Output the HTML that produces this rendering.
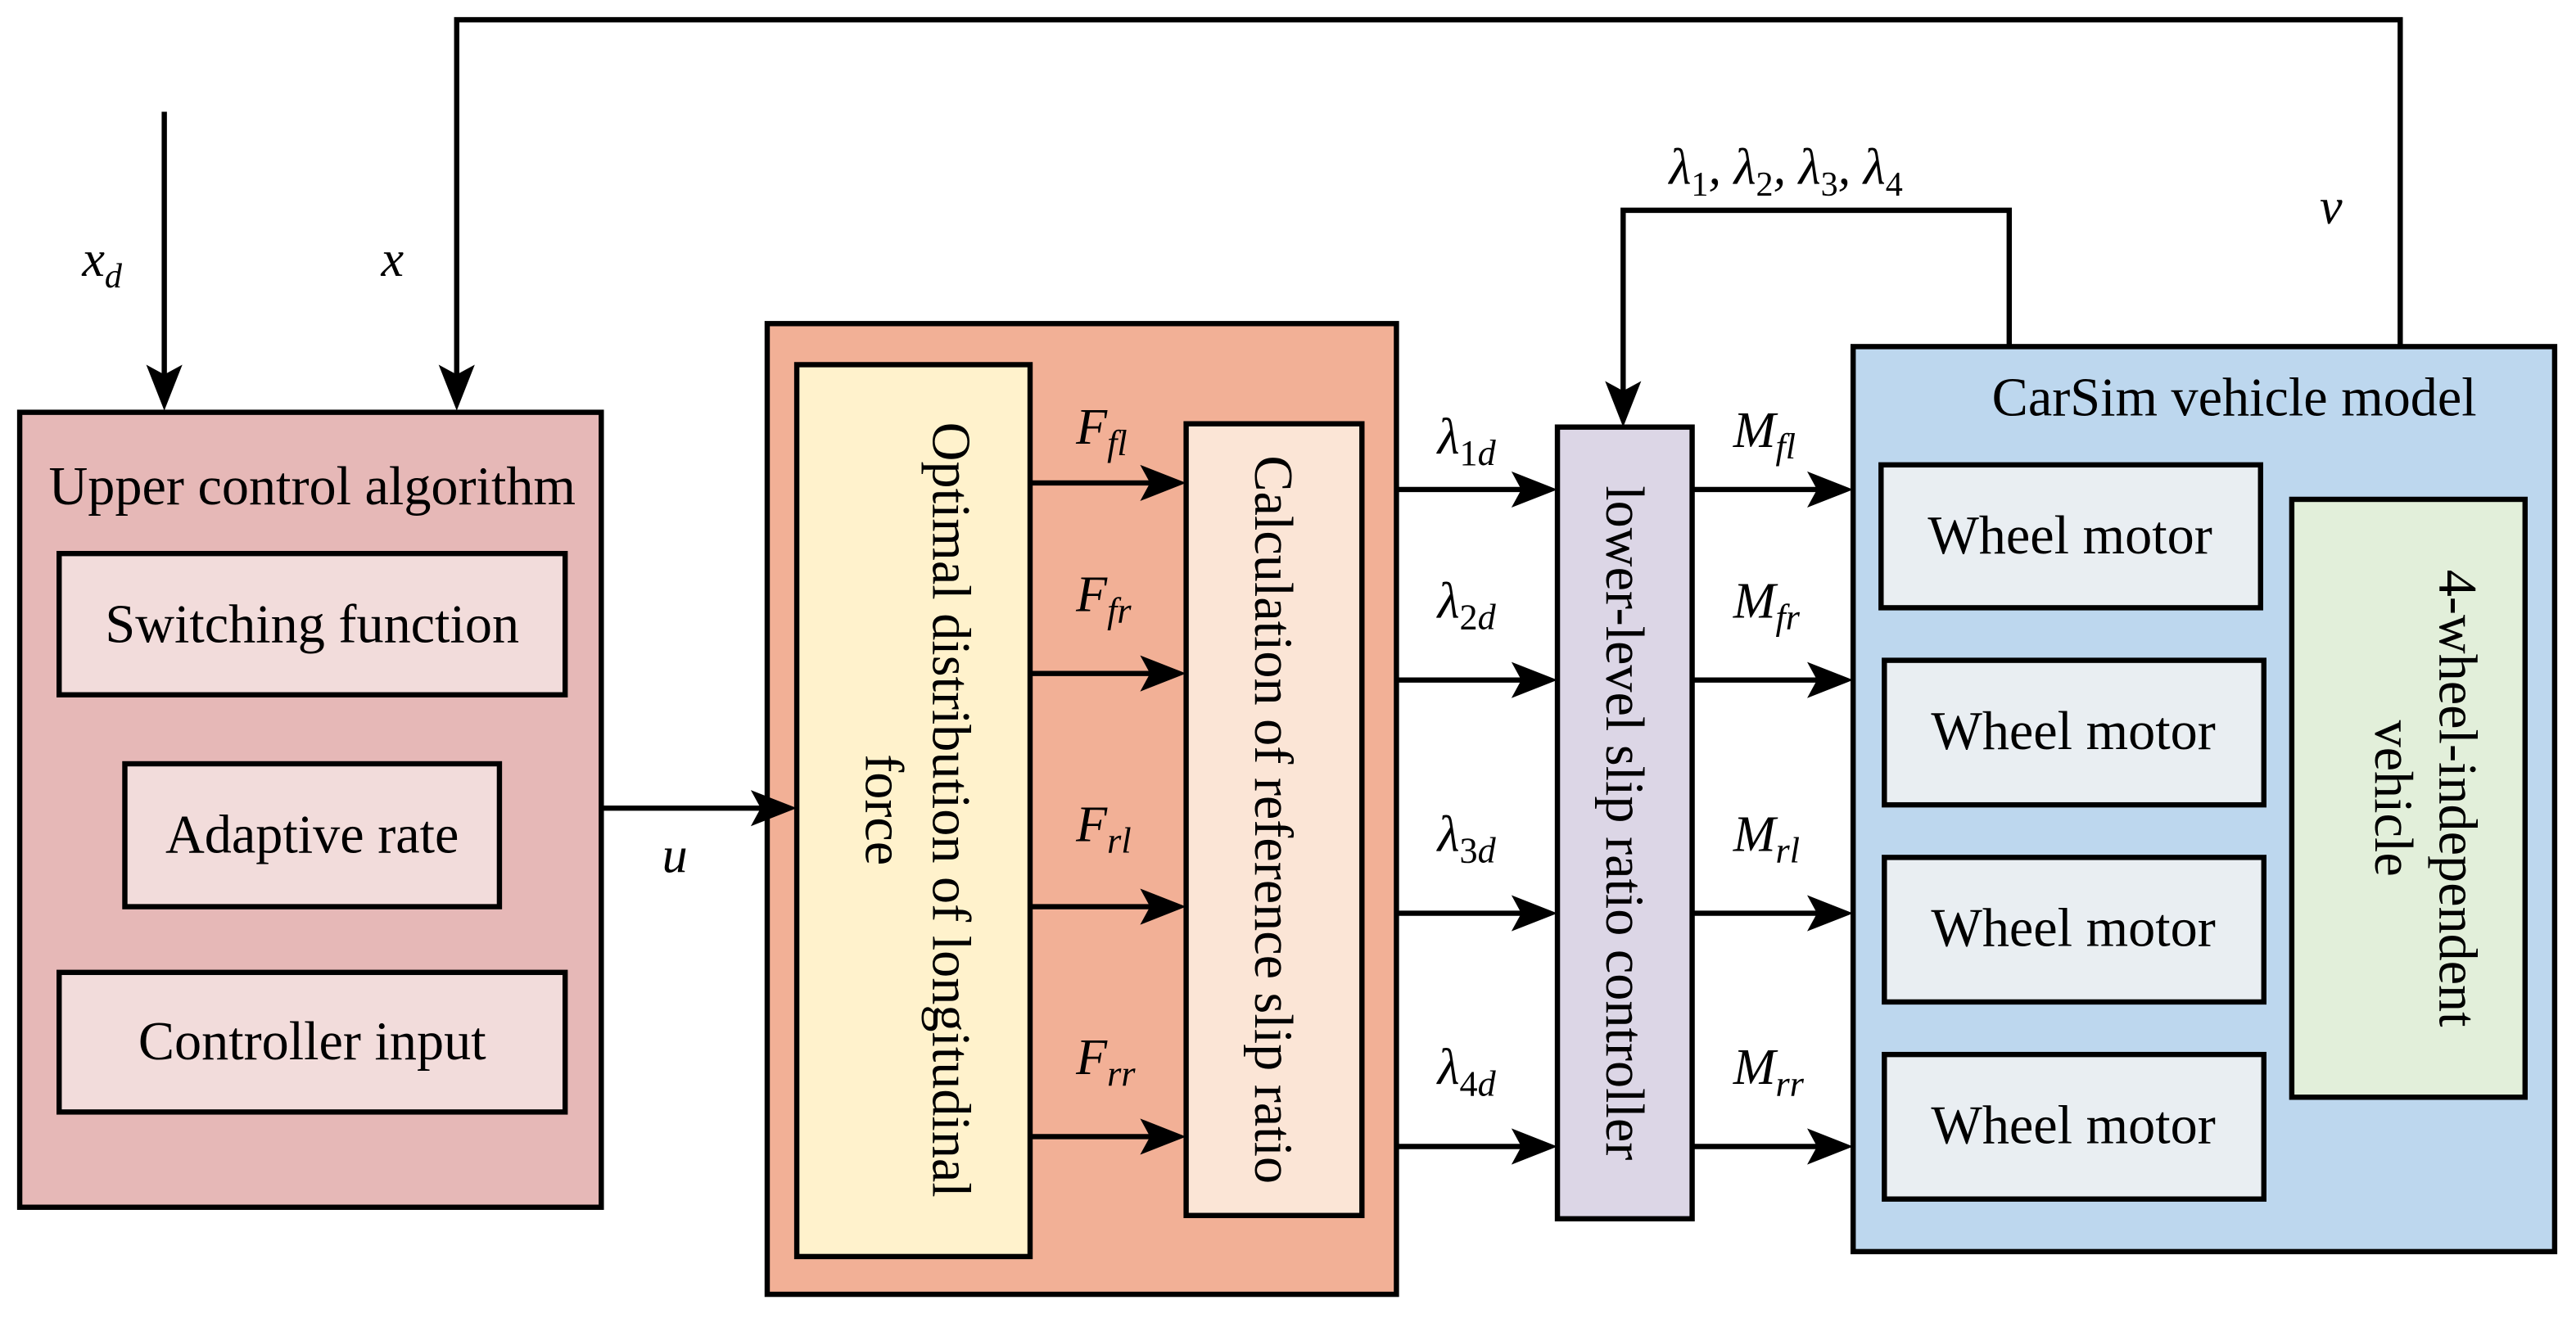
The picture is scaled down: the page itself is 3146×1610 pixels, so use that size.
<!DOCTYPE html>
<html><head><style>html,body{margin:0;padding:0;background:#fff}svg{display:block}</style></head><body>
<svg width="3146" height="1610" viewBox="0 0 1568 802.4" xmlns="http://www.w3.org/2000/svg" font-family="Liberation Serif, serif">
<g stroke="#000" stroke-width="3.2">
<rect x="12" y="251" width="354" height="484" fill="#e6b8b7"/>
<rect x="36" y="337" width="308" height="86" fill="#f2dcdb"/>
<rect x="76" y="465" width="228" height="87" fill="#f2dcdb"/>
<rect x="36" y="592" width="308" height="85" fill="#f2dcdb"/>
<rect x="467" y="197" width="383" height="591" fill="#f2b096"/>
<rect x="485" y="222" width="142" height="543" fill="#fff2cc"/>
<rect x="722" y="258" width="107" height="482" fill="#fbe5d6"/>
<rect x="948" y="260" width="82" height="482" fill="#dcd6e6"/>
<rect x="1128" y="211" width="427" height="551" fill="#bdd7ee"/>
<rect x="1145" y="283" width="231" height="87" fill="#e9eef2"/>
<rect x="1147" y="402" width="231" height="88" fill="#e9eef2"/>
<rect x="1147" y="522" width="231" height="88" fill="#e9eef2"/>
<rect x="1147" y="642" width="231" height="88" fill="#e9eef2"/>
<rect x="1395" y="304" width="142" height="364" fill="#e2efda"/>
</g>
<g fill="none" stroke="#000" stroke-width="3.2">
<polyline points="1461,210 1461,12 278,12 278,232"/>
<line x1="100" y1="68" x2="100" y2="232"/>
<polyline points="1223,210 1223,128 988,128 988,242"/>
<line x1="366" y1="492" x2="470" y2="492"/>
<line x1="627" y1="294" x2="706" y2="294"/>
<line x1="627" y1="410" x2="706" y2="410"/>
<line x1="627" y1="552" x2="706" y2="552"/>
<line x1="627" y1="692" x2="706" y2="692"/>
<line x1="850" y1="298" x2="932" y2="298"/>
<line x1="850" y1="414" x2="932" y2="414"/>
<line x1="850" y1="556" x2="932" y2="556"/>
<line x1="850" y1="698" x2="932" y2="698"/>
<line x1="1030" y1="298" x2="1114" y2="298"/>
<line x1="1030" y1="414" x2="1114" y2="414"/>
<line x1="1030" y1="556" x2="1114" y2="556"/>
<line x1="1030" y1="698" x2="1114" y2="698"/>
</g>
<g fill="#000">
<path d="M100,250 L89,222 L100,228 L111,222Z"/>
<path d="M278,250 L267,222 L278,228 L289,222Z"/>
<path d="M988,260 L977,232 L988,238 L999,232Z"/>
<path d="M485,492 L457,481 L463,492 L457,503Z"/>
<path d="M722,294 L694,283 L700,294 L694,305Z"/>
<path d="M722,410 L694,399 L700,410 L694,421Z"/>
<path d="M722,552 L694,541 L700,552 L694,563Z"/>
<path d="M722,692 L694,681 L700,692 L694,703Z"/>
<path d="M948,298 L920,287 L926,298 L920,309Z"/>
<path d="M948,414 L920,403 L926,414 L920,425Z"/>
<path d="M948,556 L920,545 L926,556 L920,567Z"/>
<path d="M948,698 L920,687 L926,698 L920,709Z"/>
<path d="M1128,298 L1100,287 L1106,298 L1100,309Z"/>
<path d="M1128,414 L1100,403 L1106,414 L1100,425Z"/>
<path d="M1128,556 L1100,545 L1106,556 L1100,567Z"/>
<path d="M1128,698 L1100,687 L1106,698 L1100,709Z"/>
</g>
<g font-size="33" fill="#000" text-anchor="middle">
<text x="190" y="307">Upper control algorithm</text>
<text x="190" y="391">Switching function</text>
<text x="190" y="519">Adaptive rate</text>
<text x="190" y="645">Controller input</text>
<text x="1360" y="253">CarSim vehicle model</text>
<text x="1260" y="337">Wheel motor</text>
<text x="1262" y="456">Wheel motor</text>
<text x="1262" y="576">Wheel motor</text>
<text x="1262" y="696">Wheel motor</text>
<text transform="translate(568,493) rotate(90)">Optimal distribution of longitudinal</text>
<text transform="translate(527,493) rotate(90)">force</text>
<text transform="translate(764,499) rotate(90)">Calculation of reference slip ratio</text>
<text transform="translate(978,501) rotate(90)">lower-level slip ratio controller</text>
<text transform="translate(1485,486) rotate(90)">4-wheel-independent</text>
<text transform="translate(1446,486) rotate(90)">vehicle</text>
</g>
<g font-size="31" font-style="italic" fill="#000">
<text x="50" y="168">x<tspan font-size="21" dy="7">d</tspan></text>
<text x="232" y="168">x</text>
<text x="1412" y="136">v</text>
<text x="403" y="531">u</text>
<text x="1016" y="112">λ<tspan font-size="21" font-style="normal" dy="7">1</tspan><tspan dy="-7">, λ</tspan><tspan font-size="21" font-style="normal" dy="7">2</tspan><tspan dy="-7">, λ</tspan><tspan font-size="21" font-style="normal" dy="7">3</tspan><tspan dy="-7">, λ</tspan><tspan font-size="21" font-style="normal" dy="7">4</tspan></text>
<text x="655" y="270">F<tspan font-size="22" dy="7">fl</tspan></text>
<text x="655" y="372">F<tspan font-size="22" dy="7">fr</tspan></text>
<text x="655" y="512">F<tspan font-size="22" dy="7">rl</tspan></text>
<text x="655" y="654">F<tspan font-size="22" dy="7">rr</tspan></text>
<text x="875" y="276">λ<tspan font-size="22" dy="7"><tspan font-style="normal">1</tspan>d</tspan></text>
<text x="875" y="376">λ<tspan font-size="22" dy="7"><tspan font-style="normal">2</tspan>d</tspan></text>
<text x="875" y="518">λ<tspan font-size="22" dy="7"><tspan font-style="normal">3</tspan>d</tspan></text>
<text x="875" y="660">λ<tspan font-size="22" dy="7"><tspan font-style="normal">4</tspan>d</tspan></text>
<text x="1055" y="272">M<tspan font-size="22" dy="7">fl</tspan></text>
<text x="1055" y="376">M<tspan font-size="22" dy="7">fr</tspan></text>
<text x="1055" y="518">M<tspan font-size="22" dy="7">rl</tspan></text>
<text x="1055" y="660">M<tspan font-size="22" dy="7">rr</tspan></text>
</g>
</svg>
</body></html>
